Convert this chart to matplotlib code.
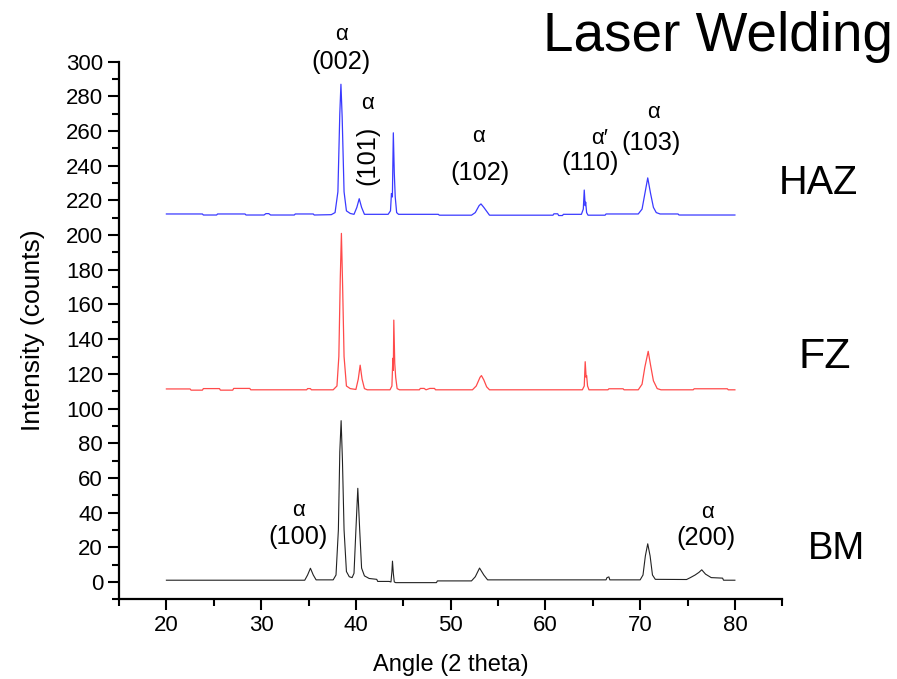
"""XRD patterns of laser welded sample: HAZ, FZ and base metal."""

import matplotlib.pyplot as plt
from matplotlib.ticker import MultipleLocator

plt.rcParams["font.family"] = ["Liberation Sans", "DejaVu Sans"]

# ---------------------------------------------------------------------------
# Traces (angle 2-theta, intensity incl. offset)
# ---------------------------------------------------------------------------
haz_angle = [20.0, 23.8, 23.9, 25.3, 25.4, 28.3, 28.4, 30.3, 30.5, 30.8, 31.0,
             33.5, 33.6, 35.5, 35.6, 37.4, 37.8, 38.1, 38.3, 38.42, 38.55,
             38.75, 39.0, 39.4, 39.8, 40.1, 40.35, 40.6, 40.9, 43.4, 43.65,
             43.75, 43.85, 43.95, 44.05, 44.15, 44.3, 44.5, 48.7, 48.8, 52.2,
             52.6, 53.0, 53.2, 53.5, 53.9, 54.1, 60.8, 60.9, 61.3, 61.4, 61.8,
             61.9, 63.8, 64.0, 64.1, 64.2, 64.25, 64.35, 64.5, 66.3, 66.4,
             69.8, 70.2, 70.5, 70.8, 71.1, 71.4, 71.7, 72.1, 74.0, 74.1, 80.0]
haz_counts = [212.2, 212.2, 211.6, 211.6, 212.2, 212.2, 211.6, 211.6, 212.4,
              212.4, 211.6, 211.6, 212.2, 212.2, 211.6, 211.8, 213, 225, 270,
              287, 268, 225, 214, 212.5, 212, 216, 221, 216, 212, 212, 214,
              224, 222, 259, 236, 222, 213, 212, 212, 211.5, 211.5, 213, 217,
              218, 216, 213, 211.5, 211.5, 212.3, 212.3, 211.3, 211.3, 212,
              212, 215, 226, 217, 219, 213, 211.5, 211.5, 212.2, 212.2, 215,
              224, 233, 224, 216, 213, 212.2, 212.2, 211.6, 211.6]

fz_angle = [20.0, 22.5, 22.6, 23.8, 23.9, 25.6, 25.7, 27.0, 27.1, 28.8, 28.9,
            34.8, 34.9, 35.2, 35.3, 37.6, 38.0, 38.2, 38.35, 38.47, 38.6,
            38.75, 39.0, 39.4, 40.0, 40.25, 40.45, 40.65, 40.9, 41.2, 43.6,
            43.8, 43.9, 43.95, 44.0, 44.1, 44.2, 44.35, 44.6, 46.7, 46.8,
            47.2, 47.4, 47.8, 48.3, 48.4, 52.3, 52.7, 53.1, 53.25, 53.5, 53.8,
            54.1, 63.9, 64.1, 64.2, 64.3, 64.35, 64.45, 64.6, 66.6, 66.7,
            68.2, 68.3, 69.8, 70.2, 70.5, 70.85, 71.1, 71.4, 71.8, 72.2, 75.6,
            75.7, 79.2, 79.3, 80.0]
fz_counts = [111.3, 111.3, 110.6, 110.6, 111.5, 111.5, 110.6, 110.6, 111.6,
             111.6, 110.8, 110.8, 111.5, 111.5, 110.8, 110.8, 113, 130, 175,
             201, 170, 130, 113, 111.5, 111, 117, 125, 117, 111.5, 110.8,
             110.8, 113, 129, 122, 151, 126, 118, 111.5, 110.8, 110.8, 111.6,
             111.6, 110.8, 111.6, 111.6, 110.8, 110.8, 113, 118, 119, 116.5,
             112.5, 110.8, 110.8, 113, 127, 118, 119, 113, 110.8, 110.8,
             111.4, 111.4, 110.8, 110.8, 114, 124, 133, 125, 116, 111.5,
             110.8, 110.8, 111.4, 111.4, 110.8, 110.8]

bm_angle = [20.0, 34.6, 34.9, 35.2, 35.5, 35.8, 37.6, 37.9, 38.15, 38.3,
            38.44, 38.58, 38.75, 39.0, 39.3, 39.6, 39.8, 40.0, 40.2, 40.4,
            40.6, 40.9, 41.4, 42.2, 42.3, 43.5, 43.7, 43.8, 43.86, 43.95,
            44.05, 44.2, 48.5, 48.6, 52.2, 52.6, 53.05, 53.5, 53.9, 66.4,
            66.5, 66.7, 66.8, 70.0, 70.3, 70.55, 70.8, 71.05, 71.3, 71.6,
            74.9, 75.3, 75.8, 76.2, 76.5, 76.9, 77.5, 78.7, 78.8, 80.0]
bm_counts = [1, 1, 4, 7.9, 4, 1.2, 1.2, 4, 30, 75, 93, 70, 30, 6, 3, 2.5, 5,
             30, 54, 30, 8, 3.5, 2, 1.5, 0.3, 0.3, 0, 6, 12, 5, 0, -0.4, -0.4,
             0.6, 0.6, 3, 8, 4, 1.2, 1.2, 2.5, 2.9, 1.2, 1.2, 4, 15, 22, 15, 4,
             1.5, 1.4, 2.5, 4, 5.5, 7, 4.5, 2.5, 2.2, 1, 1]

# peak labels: (angle, intensity) of the phase symbol and the index
peak_phase = ["α", "α", "α", "α′", "α", "α", "α"]
peak_hkl = ["(002)", "(101)", "(102)", "(110)", "(103)", "(100)", "(200)"]
phase_pos = [(38.45, 315.5), (41.2, 276), (52.9, 257), (65.7, 256),
             (71.4, 270.5), (33.9, 41.4), (77.1, 40.3)]
hkl_pos = [(38.45, 299.9), (41.25, 246), (53.1, 236), (64.7, 241.6),
           (71.1, 253), (33.9, 25.8), (77.0, 25.2)]
hkl_rot = [0, 90, 0, 0, 0, 0, 0]

sample_names = ["HAZ", "FZ", "BM"]
sample_size = [28.5, 31, 27.5]
sample_pos = [(0.912, 0.730), (0.920, 0.474), (0.933, 0.191)]

# ---------------------------------------------------------------------------
# Plot
# ---------------------------------------------------------------------------
fig = plt.figure(figsize=(8.97, 6.79), dpi=100)
ax = fig.add_axes([0.1327, 0.1174, 0.7394, 0.7917])

ax.plot(haz_angle, haz_counts, color="#3a3aff", lw=0.9)
ax.plot(fz_angle, fz_counts, color="#ff4a4a", lw=0.9)
ax.plot(bm_angle, bm_counts, color="#222222", lw=0.8)

for ph, (x, y) in zip(peak_phase, phase_pos):
    ax.text(x, y, ph, ha="center", va="center", fontsize=16)
for hkl, (x, y), rot in zip(peak_hkl, hkl_pos, hkl_rot):
    ax.text(x, y, hkl, ha="center", va="center", fontsize=18.3, rotation=rot)

for name, size, (x, y) in zip(sample_names, sample_size, sample_pos):
    fig.text(x, y, name, ha="center", va="center", fontsize=size)

fig.text(0.800, 0.946, "Laser Welding", ha="center", va="center", fontsize=39.5)

ax.set_xlim(15, 85)
ax.set_ylim(-10, 300)
ax.xaxis.set_major_locator(MultipleLocator(10))
ax.xaxis.set_minor_locator(MultipleLocator(5))
ax.yaxis.set_major_locator(MultipleLocator(20))
ax.yaxis.set_minor_locator(MultipleLocator(10))
ax.set_xticks(range(20, 81, 10))

ax.spines["top"].set_visible(False)
ax.spines["right"].set_visible(False)
for side in ("left", "bottom"):
    ax.spines[side].set_linewidth(1.6)
ax.tick_params(which="major", direction="out", length=8, width=1.5,
               labelsize=16)
ax.tick_params(which="minor", direction="out", length=5, width=1.5)

ax.set_xlabel("Angle (2 theta)", fontsize=17, labelpad=13)
ax.set_ylabel("Intensity (counts)", fontsize=19)
ax.yaxis.set_label_coords(-0.112, 0.5)

fig.savefig("out.png", dpi=100)
